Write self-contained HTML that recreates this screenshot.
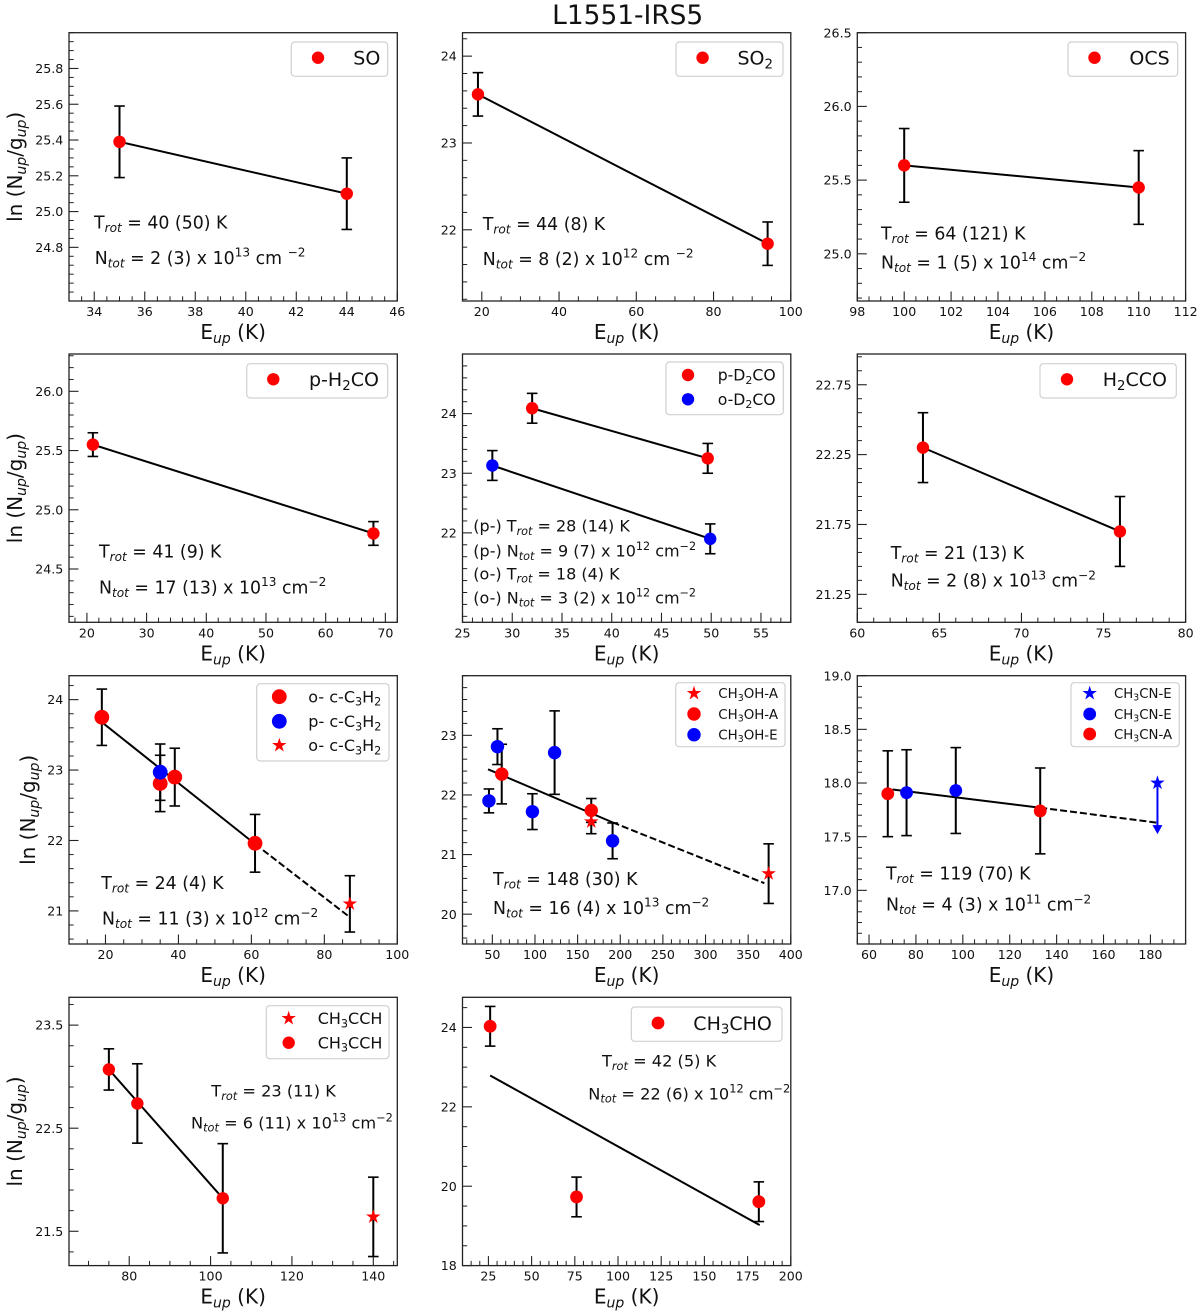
<!DOCTYPE html>
<html lang="en">
<head>
<meta charset="utf-8">
<title>L1551-IRS5 rotational diagrams</title>
<style>
html,body{margin:0;padding:0;background:#fff;}
svg{display:block;font-family:"DejaVu Sans","Liberation Sans",sans-serif;}
</style>
</head>
<body>
<svg id="figure" xmlns="http://www.w3.org/2000/svg" width="1200" height="1315" viewBox="0 0 1200 1315">
<rect x="0" y="0" width="1200" height="1315" fill="#ffffff"/>
<text x="627.7" y="24" text-anchor="middle" font-size="26.4" fill="#111">L1551-IRS5</text>
</svg>
<script>
// ---------- SO ----------
const soXLim=[33,46];
const soYLim=[24.5,26];
const soXTicks=['34','36','38','40','42','44','46'];
const soYTicks=['24.8','25.0','25.2','25.4','25.6','25.8'];
const soEnergy=[35,44];
const soLnN=[25.39,25.10];
const soErr=[0.2,0.2];
const soFitE=[35,44];
const soFitN=[25.39,25.10];
// ---------- SO2 ----------
const so2XLim=[15,100];
const so2YLim=[21.18,24.27];
const so2XTicks=['20','40','60','80','100'];
const so2YTicks=['22','23','24'];
const so2Energy=[19,94];
const so2LnN=[23.56,21.84];
const so2Err=[0.25,0.25];
const so2FitE=[19,94];
const so2FitN=[23.56,21.84];
// ---------- OCS ----------
const ocsXLim=[98,112];
const ocsYLim=[24.68,26.5];
const ocsXTicks=['98','100','102','104','106','108','110','112'];
const ocsYTicks=['25.0','25.5','26.0','26.5'];
const ocsEnergy=[100,110];
const ocsLnN=[25.60,25.45];
const ocsErr=[0.25,0.25];
const ocsFitE=[100,110];
const ocsFitN=[25.60,25.45];
// ---------- p-H2CO ----------
const h2coXLim=[17,72];
const h2coYLim=[24.05,26.315];
const h2coXTicks=['20','30','40','50','60','70'];
const h2coYTicks=['24.5','25.0','25.5','26.0'];
const h2coEnergy=[21,68];
const h2coLnN=[25.55,24.80];
const h2coErr=[0.1,0.1];
const h2coFitE=[21,68];
const h2coFitN=[25.55,24.80];
// ---------- D2CO ----------
const d2coXLim=[25,58];
const d2coYLim=[20.5,25];
const d2coXTicks=['25','30','35','40','45','50','55'];
const d2coYTicks=['22','23','24'];
const pD2coEnergy=[32,49.65];
const pD2coLnN=[24.09,23.25];
const pD2coErr=[0.25,0.25];
const oD2coEnergy=[28,49.9];
const oD2coLnN=[23.13,21.90];
const oD2coErr=[0.25,0.25];
const pD2coFitE=[32,49.65];
const pD2coFitN=[24.09,23.25];
const oD2coFitE=[28,49.9];
const oD2coFitN=[23.13,21.90];
// ---------- H2CCO ----------
const h2ccoXLim=[60,80];
const h2ccoYLim=[21.05,22.97];
const h2ccoXTicks=['60','65','70','75','80'];
const h2ccoYTicks=['21.25','21.75','22.25','22.75'];
const h2ccoEnergy=[64,76];
const h2ccoLnN=[22.30,21.70];
const h2ccoErr=[0.25,0.25];
const h2ccoFitE=[64,76];
const h2ccoFitN=[22.30,21.70];
// ---------- c-C3H2 ----------
const c3h2XLim=[10,100];
const c3h2YLim=[20.53,24.34];
const c3h2XTicks=['20','40','60','80','100'];
const c3h2YTicks=['21','22','23','24'];
const oC3h2Energy=[19,35,39,61];
const oC3h2LnN=[23.75,22.81,22.90,21.96];
const oC3h2Err=[0.4,0.4,0.41,0.41];
const pC3h2Energy=[35];
const pC3h2LnN=[22.97];
const pC3h2Err=[0.4];
const oC3h2StarEnergy=[87];
const oC3h2StarLnN=[21.10];
const oC3h2StarErr=[0.4];
const c3h2FitE=[19,61];
const c3h2FitN=[23.68,21.95];
const c3h2DashE=[61,87];
const c3h2DashN=[21.95,20.91];
// ---------- CH3OH ----------
const ch3ohXLim=[15,400];
const ch3ohYLim=[19.5,24];
const ch3ohXTicks=['50','100','150','200','250','300','350','400'];
const ch3ohYTicks=['20','21','22','23'];
const ch3ohStarEnergy=[166,374];
const ch3ohStarLnN=[21.55,20.68];
const ch3ohStarErr=[0.2,0.5];
const ch3ohAEnergy=[61,166];
const ch3ohALnN=[22.35,21.74];
const ch3ohAErr=[0.5,0.2];
const ch3ohEEnergy=[46,56,97,123,191];
const ch3ohELnN=[21.90,22.81,21.72,22.71,21.23];
const ch3ohEErr=[0.2,0.3,0.3,0.7,0.3];
const ch3ohFitE=[45,191];
const ch3ohFitN=[22.43,21.54];
const ch3ohDashE=[191,369];
const ch3ohDashN=[21.54,20.52];
// ---------- CH3CN ----------
const ch3cnXLim=[55,195];
const ch3cnYLim=[16.5,19];
const ch3cnXTicks=['60','80','100','120','140','160','180'];
const ch3cnYTicks=['17.0','17.5','18.0','18.5','19.0'];
const ch3cnLimitEnergy=[183];
const ch3cnLimitLnN=[18.0];
const ch3cnLimitTo=[17.57];
const ch3cnEEnergy=[76,97];
const ch3cnELnN=[17.91,17.93];
const ch3cnEErr=[0.4,0.4];
const ch3cnAEnergy=[68,133];
const ch3cnALnN=[17.90,17.74];
const ch3cnAErr=[0.4,0.4];
const ch3cnFitE=[70,133];
const ch3cnFitN=[17.94,17.77];
const ch3cnDashE=[133,183];
const ch3cnDashN=[17.77,17.63];
// ---------- CH3CCH ----------
const ch3cchXLim=[65.2,145.9];
const ch3cchYLim=[21.167,23.77];
const ch3cchXTicks=['80','100','120','140'];
const ch3cchYTicks=['21.5','22.5','23.5'];
const ch3cchStarEnergy=[140];
const ch3cchStarLnN=[21.64];
const ch3cchStarErr=[0.385];
const ch3cchEnergy=[75,82,103];
const ch3cchLnN=[23.07,22.74,21.82];
const ch3cchErr=[0.2,0.385,0.53];
const ch3cchFitE=[75,103];
const ch3cchFitN=[23.07,21.82];
// ---------- CH3CHO ----------
const ch3choXLim=[10,200];
const ch3choYLim=[18,24.76];
const ch3choXTicks=['25','50','75','100','125','150','175','200'];
const ch3choYTicks=['18','20','22','24'];
const ch3choEnergy=[26,76,181.5];
const ch3choLnN=[24.03,19.73,19.61];
const ch3choErr=[0.5,0.5,0.5];
const ch3choFitE=[26,182];
const ch3choFitN=[22.79,19.02];

// Panels: data references only
const panels=[
 {id:'so',xLim:soXLim,yLim:soYLim,xTicks:soXTicks,yTicks:soYTicks,xMinor:0.5,yMinor:0.05,
  series:[{label:'SO',kind:'o',color:'red',x:soEnergy,y:soLnN,err:soErr}],
  fits:[{x:soFitE,y:soFitN}],
  notes:['T_{rot} = 40 (50) K','N_{tot} = 2 (3) x 10^{13} cm ^{−2}']},
 {id:'so2',xLim:so2XLim,yLim:so2YLim,xTicks:so2XTicks,yTicks:so2YTicks,xMinor:5,yMinor:0.2,
  series:[{label:'SO~{2}',kind:'o',color:'red',x:so2Energy,y:so2LnN,err:so2Err}],
  fits:[{x:so2FitE,y:so2FitN}],
  notes:['T_{rot} = 44 (8) K','N_{tot} = 8 (2) x 10^{12} cm ^{−2}']},
 {id:'ocs',xLim:ocsXLim,yLim:ocsYLim,xTicks:ocsXTicks,yTicks:ocsYTicks,xMinor:0.5,yMinor:0.1,
  series:[{label:'OCS',kind:'o',color:'red',x:ocsEnergy,y:ocsLnN,err:ocsErr}],
  fits:[{x:ocsFitE,y:ocsFitN}],
  notes:['T_{rot} = 64 (121) K','N_{tot} = 1 (5) x 10^{14} cm^{−2}']},
 {id:'p-h2co',xLim:h2coXLim,yLim:h2coYLim,xTicks:h2coXTicks,yTicks:h2coYTicks,xMinor:2,yMinor:0.1,
  series:[{label:'p-H~{2}CO',kind:'o',color:'red',x:h2coEnergy,y:h2coLnN,err:h2coErr}],
  fits:[{x:h2coFitE,y:h2coFitN}],
  notes:['T_{rot} = 41 (9) K','N_{tot} = 17 (13) x 10^{13} cm^{−2}']},
 {id:'d2co',xLim:d2coXLim,yLim:d2coYLim,xTicks:d2coXTicks,yTicks:d2coYTicks,xMinor:1,yMinor:0.2,
  series:[{label:'p-D~{2}CO',kind:'o',color:'red',x:pD2coEnergy,y:pD2coLnN,err:pD2coErr},
          {label:'o-D~{2}CO',kind:'o',color:'blue',x:oD2coEnergy,y:oD2coLnN,err:oD2coErr}],
  fits:[{x:pD2coFitE,y:pD2coFitN},{x:oD2coFitE,y:oD2coFitN}],
  notes:['(p-) T_{rot} = 28 (14) K','(p-) N_{tot} = 9 (7) x 10^{12} cm^{−2}','(o-) T_{rot} = 18 (4) K','(o-) N_{tot} = 3 (2) x 10^{12} cm^{−2}']},
 {id:'h2cco',xLim:h2ccoXLim,yLim:h2ccoYLim,xTicks:h2ccoXTicks,yTicks:h2ccoYTicks,xMinor:1,yMinor:0.1,
  series:[{label:'H~{2}CCO',kind:'o',color:'red',x:h2ccoEnergy,y:h2ccoLnN,err:h2ccoErr}],
  fits:[{x:h2ccoFitE,y:h2ccoFitN}],
  notes:['T_{rot} = 21 (13) K','N_{tot} = 2 (8) x 10^{13} cm^{−2}']},
 {id:'c-c3h2',xLim:c3h2XLim,yLim:c3h2YLim,xTicks:c3h2XTicks,yTicks:c3h2YTicks,xMinor:5,yMinor:0.2,
  series:[{label:'o- c-C~{3}H~{2}',kind:'o',color:'red',x:oC3h2Energy,y:oC3h2LnN,err:oC3h2Err},
          {label:'p- c-C~{3}H~{2}',kind:'o',color:'blue',x:pC3h2Energy,y:pC3h2LnN,err:pC3h2Err},
          {label:'o- c-C~{3}H~{2}',kind:'*',color:'red',x:oC3h2StarEnergy,y:oC3h2StarLnN,err:oC3h2StarErr}],
  fits:[{x:c3h2FitE,y:c3h2FitN},{x:c3h2DashE,y:c3h2DashN,dashed:true}],
  notes:['T_{rot} = 24 (4) K','N_{tot} = 11 (3) x 10^{12} cm^{−2}']},
 {id:'ch3oh',xLim:ch3ohXLim,yLim:ch3ohYLim,xTicks:ch3ohXTicks,yTicks:ch3ohYTicks,xMinor:10,yMinor:0.2,
  series:[{label:'CH~{3}OH-A',kind:'*',color:'red',x:ch3ohStarEnergy,y:ch3ohStarLnN,err:ch3ohStarErr},
          {label:'CH~{3}OH-A',kind:'o',color:'red',x:ch3ohAEnergy,y:ch3ohALnN,err:ch3ohAErr},
          {label:'CH~{3}OH-E',kind:'o',color:'blue',x:ch3ohEEnergy,y:ch3ohELnN,err:ch3ohEErr}],
  fits:[{x:ch3ohFitE,y:ch3ohFitN},{x:ch3ohDashE,y:ch3ohDashN,dashed:true}],
  notes:['T_{rot} = 148 (30) K','N_{tot} = 16 (4) x 10^{13} cm^{−2}']},
 {id:'ch3cn',xLim:ch3cnXLim,yLim:ch3cnYLim,xTicks:ch3cnXTicks,yTicks:ch3cnYTicks,xMinor:5,yMinor:0.1,
  series:[{label:'CH~{3}CN-E',kind:'*',color:'blue',x:ch3cnLimitEnergy,y:ch3cnLimitLnN,limitTo:ch3cnLimitTo},
          {label:'CH~{3}CN-E',kind:'o',color:'blue',x:ch3cnEEnergy,y:ch3cnELnN,err:ch3cnEErr},
          {label:'CH~{3}CN-A',kind:'o',color:'red',x:ch3cnAEnergy,y:ch3cnALnN,err:ch3cnAErr}],
  fits:[{x:ch3cnFitE,y:ch3cnFitN},{x:ch3cnDashE,y:ch3cnDashN,dashed:true}],
  notes:['T_{rot} = 119 (70) K','N_{tot} = 4 (3) x 10^{11} cm^{−2}']},
 {id:'ch3cch',xLim:ch3cchXLim,yLim:ch3cchYLim,xTicks:ch3cchXTicks,yTicks:ch3cchYTicks,xMinor:5,yMinor:0.2,
  series:[{label:'CH~{3}CCH',kind:'*',color:'red',x:ch3cchStarEnergy,y:ch3cchStarLnN,err:ch3cchStarErr},
          {label:'CH~{3}CCH',kind:'o',color:'red',x:ch3cchEnergy,y:ch3cchLnN,err:ch3cchErr}],
  fits:[{x:ch3cchFitE,y:ch3cchFitN}],
  notes:['T_{rot} = 23 (11) K','N_{tot} = 6 (11) x 10^{13} cm^{−2}']},
 {id:'ch3cho',xLim:ch3choXLim,yLim:ch3choYLim,xTicks:ch3choXTicks,yTicks:ch3choYTicks,xMinor:5,yMinor:0.5,
  series:[{label:'CH~{3}CHO',kind:'o',color:'red',x:ch3choEnergy,y:ch3choLnN,err:ch3choErr}],
  fits:[{x:ch3choFitE,y:ch3choFitN}],
  notes:['T_{rot} = 42 (5) K','N_{tot} = 22 (6) x 10^{12} cm^{−2}']}
];

// Layout: pixel placement, separate from the data
const colLeft=[69,462.5,857.3];
const rowTop=[32.7,354,675.7,997.3];
const frameW=328.3, frameH=268.3;
const layouts=[
 {col:0,row:0,r:6.2,yLabelX:22,box:[291.3,42,96.4,34.3],mx:318,my:[57.7],tx:353.3,lf:19,nf:17.35,notes:[[94,228.3],[94.7,264]]},
 {col:1,row:0,r:6.2,box:[676,42,107,34.3],mx:702.6,my:[57.7],tx:737.5,lf:19,nf:17.35,notes:[[482.8,230],[482.8,265]]},
 {col:2,row:0,r:6.2,box:[1068,42,109.7,34.3],mx:1094.5,my:[57.7],tx:1129.4,lf:19,nf:17.35,notes:[[881,239.3],[881,268.3]]},
 {col:0,row:1,r:6.2,yLabelX:22,box:[246.7,363.7,141,34.3],mx:273.3,my:[379.3],tx:309,lf:19,nf:17.35,notes:[[99,557.3],[99,593.3]]},
 {col:1,row:1,r:6.2,box:[666,362,117.3,52.7],mx:688,my:[375,399.3],tx:717.7,lf:15.7,nf:16,notes:[[473.3,531.7],[473.3,556.7],[473.3,579.3],[473.3,603.3]]},
 {col:2,row:1,r:6.2,box:[1040,363.7,136.3,34.3],mx:1067,my:[379.3],tx:1102.7,lf:19,nf:17.35,notes:[[890.7,559],[890.7,586.7]]},
 {col:0,row:2,r:7.4,yLabelX:35,box:[256.7,683.7,132.3,77.3],mx:279.3,my:[696.7,721.3,745.3],tx:308.3,lf:16,nf:17.35,notes:[[101.3,889],[102,924.3]]},
 {col:1,row:2,r:6.7,box:[675.7,682.7,109.3,64],mx:694,my:[693.3,714,734.7],tx:718.3,lf:13.4,nf:17.35,notes:[[493,885],[493,914]]},
 {col:2,row:2,r:6.4,box:[1071,682.7,108.3,64],mx:1089.7,my:[693.3,714,734],tx:1114,lf:13.3,nf:17.35,notes:[[886,879.3],[886,910.7]]},
 {col:0,row:3,r:6.2,yLabelX:22,box:[266.3,1005.7,122.7,53],mx:288.7,my:[1018.3,1042.7],tx:317.7,lf:16,nf:16.2,notes:[[211.3,1096.7],[191,1128.3]]},
 {col:1,row:3,r:6.4,box:[631.3,1007,150.7,34.3],mx:658,my:[1023],tx:693.3,lf:19,nf:16.2,notes:[[602,1066.7],[588.3,1099.3]]}
];

const NS='http://www.w3.org/2000/svg';
const root=document.getElementById('figure');
function make(tag,parent){const e=document.createElementNS(NS,tag);parent.appendChild(e);return e;}
function rich(t,str,size){
  const re=/([_~^])\{([^}]*)\}/g;let last=0,m,shift=0;
  function seg(s,opts){
    if(!s)return;
    const sp=make('tspan',t);
    
    
    sp.textContent=s;
    const target=opts?opts.shift:0;
    if(target!==shift){sp.setAttribute('dy',(target-shift).toFixed(2));shift=target;}
    if(opts){sp.setAttribute('font-size',(size*0.7).toFixed(2));if(opts.italic)sp.setAttribute('font-style','italic');}
  }
  while((m=re.exec(str))){
    seg(str.slice(last,m.index));
    if(m[1]==='^')seg(m[2],{shift:-size*0.42});
    else seg(m[2],{shift:size*0.2,italic:m[1]==='_'});
    last=re.lastIndex;
  }
  seg(str.slice(last));
}
function starPoints(cx,cy,R){
  const out=[];
  for(let i=0;i<10;i++){
    const rad=i%2?R*0.382:R, a=-Math.PI/2+i*Math.PI/5;
    out.push((cx+rad*Math.cos(a)).toFixed(2)+','+(cy+rad*Math.sin(a)).toFixed(2));
  }
  return out.join(' ');
}
function drawMarker(parent,kind,color,cx,cy,r,name){
  if(kind==='*'){
    const s=make('polygon',parent);
    
    
    s.setAttribute('points',starPoints(cx,cy,7.6));
    s.setAttribute('fill',color);
  }else{
    const c=make('circle',parent);
    
    
    c.setAttribute('cx',cx);c.setAttribute('cy',cy);c.setAttribute('r',r);
    c.setAttribute('fill',color);
  }
}
function drawLine(parent,x1,y1,x2,y2,stroke,w,name){
  const l=make('line',parent);
  
  
  l.setAttribute('x1',x1);l.setAttribute('y1',y1);l.setAttribute('x2',x2);l.setAttribute('y2',y2);
  l.setAttribute('stroke',stroke);l.setAttribute('stroke-width',w);
  return l;
}
function drawPanel(p,lay){
  const L=colLeft[lay.col],T=rowTop[lay.row],B=T+frameH,R=L+frameW;
  const sx=v=>L+(v-p.xLim[0])/(p.xLim[1]-p.xLim[0])*frameW;
  const sy=v=>B-(v-p.yLim[0])/(p.yLim[1]-p.yLim[0])*frameH;
  const g=make('g',root);
  
  

  // ticks
  const xMaj=p.xTicks.map(Number),yMaj=p.yTicks.map(Number);
  const isMajor=(v,arr,st)=>arr.some(a=>Math.abs(a-v)<st*0.01);
  const TICK='#222';
  for(let k=-200;k<=200;k++){
    const v=xMaj[0]+k*p.xMinor;
    if(v<p.xLim[0]-1e-6||v>p.xLim[1]+1e-6||isMajor(v,xMaj,p.xMinor))continue;
    drawLine(g,sx(v),B,sx(v),B-4.7,TICK,1,'x-minor-tick');
  }
  for(let k=-200;k<=200;k++){
    const v=yMaj[0]+k*p.yMinor;
    if(v<p.yLim[0]-1e-6||v>p.yLim[1]+1e-6||isMajor(v,yMaj,p.yMinor))continue;
    drawLine(g,L,sy(v),L+4.7,sy(v),TICK,1,'y-minor-tick');
  }
  p.xTicks.forEach(lbl=>{
    const v=Number(lbl);
    drawLine(g,sx(v),B,sx(v),B-9.5,TICK,1.1,'x-major-tick');
    const t=make('text',g);
    
    
    t.setAttribute('x',sx(v));t.setAttribute('y',B+15);
    t.setAttribute('text-anchor','middle');t.setAttribute('font-size','12.6');t.setAttribute('fill','#111');
    t.textContent=lbl;
  });
  p.yTicks.forEach(lbl=>{
    const v=Number(lbl);
    drawLine(g,L,sy(v),L+9.5,sy(v),TICK,1.1,'y-major-tick');
    const t=make('text',g);
    
    
    t.setAttribute('x',L-5.7);t.setAttribute('y',sy(v)+4.6);
    t.setAttribute('text-anchor','end');t.setAttribute('font-size','12.6');t.setAttribute('fill','#111');
    t.textContent=lbl;
  });

  // fit lines
  p.fits.forEach(f=>{
    for(let i=0;i+1<f.x.length;i++){
      const l=drawLine(g,sx(f.x[i]),sy(f.y[i]),sx(f.x[i+1]),sy(f.y[i+1]),'#000',2,f.dashed?'fit-line-extrapolated':'fit-line');
      if(f.dashed)l.setAttribute('stroke-dasharray','7 3');
    }
  });

  // error bars
  p.series.forEach(s=>{
    if(!s.err)return;
    s.x.forEach((xv,i)=>{
      const x=sx(xv),top=sy(s.y[i]+s.err[i]),bot=sy(s.y[i]-s.err[i]);
      drawLine(g,x,top,x,bot,'#000',2,'error-bar');
      drawLine(g,x-5.3,top,x+5.3,top,'#000',1.6,'error-bar-cap');
      drawLine(g,x-5.3,bot,x+5.3,bot,'#000',1.6,'error-bar-cap');
    });
  });

  // upper-limit arrows
  p.series.forEach(s=>{
    if(!s.limitTo)return;
    s.x.forEach((xv,i)=>{
      const x=sx(xv),y2=sy(s.limitTo[i]);
      drawLine(g,x,sy(s.y[i]),x,y2,s.color,2,'upper-limit-arrow-shaft');
      const h=make('polygon',g);
      
      
      h.setAttribute('points',(x-5)+','+(y2-4)+' '+(x+5)+','+(y2-4)+' '+x+','+(y2+5));
      h.setAttribute('fill',s.color);
    });
  });

  // markers
  p.series.slice().sort((a,b)=>(a.color==='blue')-(b.color==='blue')).forEach(s=>{
    s.x.forEach((xv,i)=>drawMarker(g,s.kind,s.color,sx(xv),sy(s.y[i]),lay.r,'data'));
  });

  // frame
  const fr=make('rect',g);
  
  
  fr.setAttribute('x',L);fr.setAttribute('y',T);fr.setAttribute('width',frameW);fr.setAttribute('height',frameH);
  fr.setAttribute('fill','none');fr.setAttribute('stroke','#222');fr.setAttribute('stroke-width','1.3');

  // axis labels
  const xl=make('text',g);
  
  
  xl.setAttribute('x',L+frameW/2);xl.setAttribute('y',B+38);
  xl.setAttribute('text-anchor','middle');xl.setAttribute('font-size','20');xl.setAttribute('fill','#111');
  rich(xl,'E_{up} (K)',20);
  if(lay.yLabelX!==undefined){
    const yl=make('text',g);
    
    
    const cy=T+frameH/2;
    yl.setAttribute('x',lay.yLabelX);yl.setAttribute('y',cy);
    yl.setAttribute('transform','rotate(-90 '+lay.yLabelX+' '+cy+')');
    yl.setAttribute('text-anchor','middle');yl.setAttribute('font-size','20');yl.setAttribute('fill','#111');
    rich(yl,'ln (N_{up}/g_{up})',20);
  }

  // annotations
  p.notes.forEach((n,i)=>{
    const t=make('text',g);
    
    
    t.setAttribute('x',lay.notes[i][0]);t.setAttribute('y',lay.notes[i][1]);
    t.setAttribute('font-size',lay.nf);t.setAttribute('fill','#111');
    t.setAttribute('xml:space','preserve');
    t.style.whiteSpace='pre';
    rich(t,n,lay.nf);
  });

  // legend
  const lg=make('g',g);
  
  
  const bx=make('rect',lg);
  
  
  bx.setAttribute('x',lay.box[0]);bx.setAttribute('y',lay.box[1]);bx.setAttribute('width',lay.box[2]);bx.setAttribute('height',lay.box[3]);
  bx.setAttribute('rx','3.5');bx.setAttribute('fill','#fff');bx.setAttribute('fill-opacity','0.85');
  bx.setAttribute('stroke','#d0d0d0');bx.setAttribute('stroke-width','1.2');
  p.series.forEach((s,i)=>{
    drawMarker(lg,s.kind,s.color,lay.mx,lay.my[i],lay.r,'legend-entry');
    const t=make('text',lg);
    
    
    t.setAttribute('x',lay.tx);t.setAttribute('y',lay.my[i]+lay.lf*0.36);
    t.setAttribute('font-size',lay.lf);t.setAttribute('fill','#111');
    rich(t,s.label,lay.lf);
  });
}
panels.forEach((p,i)=>drawPanel(p,layouts[i]));
</script>
</body>
</html>
